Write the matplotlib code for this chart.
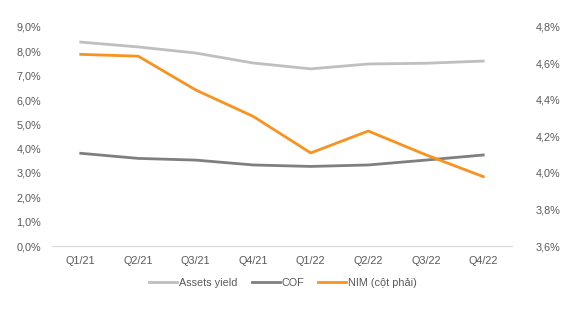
import matplotlib.pyplot as plt
import matplotlib.ticker as mticker

quarters = ["Q1/21", "Q2/21", "Q3/21", "Q4/21", "Q1/22", "Q2/22", "Q3/22", "Q4/22"]
assets_yield = [8.38, 8.18, 7.93, 7.52, 7.28, 7.48, 7.51, 7.60]
cof = [3.81, 3.60, 3.53, 3.33, 3.27, 3.33, 3.53, 3.74]
nim = [4.65, 4.64, 4.455, 4.31, 4.11, 4.23, 4.10, 3.98]

plt.rcParams["font.family"] = ["Liberation Sans", "DejaVu Sans"]
text_color = "#595959"

fig = plt.figure(figsize=(5.85, 3.23), dpi=100)
ax = fig.add_axes([52 / 585, 1 - 246 / 323, 460 / 585, 219 / 323])
ax2 = ax.twinx()

x = range(len(quarters))
l1, = ax.plot(x, assets_yield, color="#BFBFBF", lw=2.0, label="Assets yield")
l2, = ax.plot(x, cof, color="#7F7F7F", lw=2.0, label="COF")
l3, = ax2.plot(x, nim, color="#F7931E", lw=2.0, label="NIM (cột phải)")

ax.set_xlim(-0.5, len(quarters) - 0.5)
ax.set_ylim(0, 9)
ax2.set_ylim(3.6, 4.8)
ax.set_yticks([i for i in range(10)])
ax2.set_yticks([3.6, 3.8, 4.0, 4.2, 4.4, 4.6, 4.8])
fmt = mticker.FuncFormatter(lambda v, p: f"{v:.1f}%".replace(".", ","))
ax.yaxis.set_major_formatter(fmt)
ax2.yaxis.set_major_formatter(fmt)
ax.set_xticks(list(x))
ax.set_xticklabels(quarters)

for a in (ax, ax2):
    for s in a.spines.values():
        s.set_visible(False)
    a.tick_params(length=0, labelsize=7.8, colors=text_color)
ax.spines["bottom"].set_visible(True)
ax.spines["bottom"].set_color("#D9D9D9")
ax.tick_params(axis="y", pad=8)
ax.tick_params(axis="x", pad=7)
ax2.tick_params(axis="y", pad=17)

fig.legend(handles=[l1, l2, l3], loc="center", bbox_to_anchor=(283 / 585, 1 - 283 / 323),
           ncol=3, frameon=False, fontsize=7.8, labelcolor=text_color,
           handlelength=2.6, handletextpad=0.15, columnspacing=1.3)

fig.savefig("out.png", dpi=100)
